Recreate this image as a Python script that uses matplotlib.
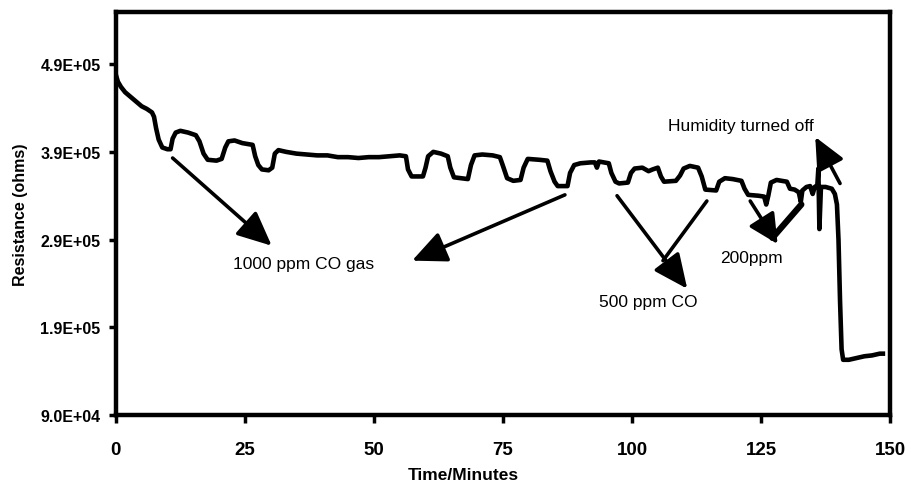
import matplotlib
matplotlib.use("Agg")
import matplotlib.pyplot as plt

plt.rcParams['font.family'] = ['Liberation Sans', 'DejaVu Sans']

# Time (minutes)
time_min = [0.0, 0.4, 1.0, 1.8, 3.0, 4.0, 5.0, 6.0, 7.0, 7.4, 7.8, 8.3, 9.0, 10.0, 10.6,
            11.0, 11.6, 12.5, 14.0, 15.5, 16.2, 17.0, 17.8, 19.5, 20.5, 21.2, 21.8, 23.0,
            24.5, 26.5, 27.0, 27.6, 28.3, 29.6, 30.3, 30.8, 31.5, 33.0, 35.0, 37.0, 39.0,
            41.0, 43.0, 45.0, 47.0, 49.0, 51.0, 53.0, 55.0, 56.2, 56.6, 57.3, 59.5, 60.0,
            60.5, 61.5, 63.0, 64.3, 64.8, 65.5, 68.2, 68.8, 69.5, 71.0, 73.0, 74.4, 75.0,
            75.8, 77.0, 78.4, 79.0, 79.8, 82.0, 83.6, 84.2, 85.0, 85.6, 87.5, 88.0, 88.8,
            90.0, 92.0, 92.8, 93.2, 93.6, 95.5, 96.0, 96.8, 97.5, 99.2, 99.8, 100.5, 102.0,
            103.2, 104.0, 105.0, 105.6, 106.2, 108.5, 109.3, 110.0, 111.2, 112.8, 113.5,
            114.2, 116.3, 116.9, 118.0, 119.5, 121.2, 121.8, 122.5, 124.5, 125.6, 126.0,
            126.4, 126.9, 128.0, 130.0, 130.6, 131.5, 132.3, 132.7, 133.0, 133.8, 134.5,
            135.0, 135.4, 135.9, 136.1, 136.3, 136.6, 137.5, 138.7, 139.3, 139.7, 140.0,
            140.3, 140.6, 140.9, 142.0, 143.5, 145.0, 146.5, 148.0, 148.6]

# Resistance (ohms)
resistance = [4.78e5, 4.70e5, 4.64e5, 4.58e5, 4.52e5, 4.47e5, 4.42e5, 4.39e5, 4.35e5, 4.30e5,
              4.17e5, 4.04e5, 3.95e5, 3.93e5, 3.93e5, 4.05e5, 4.12e5, 4.14e5, 4.12e5, 4.09e5,
              4.02e5, 3.88e5, 3.81e5, 3.80e5, 3.82e5, 3.95e5, 4.02e5, 4.03e5, 4.00e5, 3.98e5,
              3.85e5, 3.75e5, 3.70e5, 3.69e5, 3.72e5, 3.88e5, 3.92e5, 3.90e5, 3.88e5, 3.87e5,
              3.86e5, 3.86e5, 3.84e5, 3.84e5, 3.83e5, 3.84e5, 3.84e5, 3.85e5, 3.86e5, 3.85e5,
              3.70e5, 3.62e5, 3.62e5, 3.72e5, 3.85e5, 3.90e5, 3.88e5, 3.85e5, 3.72e5, 3.61e5,
              3.59e5, 3.75e5, 3.86e5, 3.87e5, 3.86e5, 3.84e5, 3.74e5, 3.60e5, 3.57e5, 3.58e5,
              3.72e5, 3.82e5, 3.81e5, 3.80e5, 3.68e5, 3.56e5, 3.51e5, 3.51e5, 3.66e5, 3.75e5,
              3.77e5, 3.78e5, 3.78e5, 3.72e5, 3.79e5, 3.77e5, 3.66e5, 3.56e5, 3.54e5, 3.55e5,
              3.66e5, 3.71e5, 3.72e5, 3.68e5, 3.70e5, 3.72e5, 3.62e5, 3.56e5, 3.57e5, 3.63e5,
              3.71e5, 3.74e5, 3.72e5, 3.62e5, 3.47e5, 3.46e5, 3.56e5, 3.60e5, 3.59e5, 3.57e5,
              3.48e5, 3.41e5, 3.40e5, 3.39e5, 3.30e5, 3.40e5, 3.55e5, 3.58e5, 3.56e5, 3.48e5,
              3.47e5, 3.44e5, 3.33e5, 3.46e5, 3.50e5, 3.51e5, 3.42e5, 3.50e5, 3.52e5, 3.71e5,
              3.02e5, 3.50e5, 3.50e5, 3.48e5, 3.42e5, 3.30e5, 2.90e5, 2.20e5, 1.65e5, 1.53e5,
              1.53e5, 1.55e5, 1.57e5, 1.58e5, 1.60e5, 1.60e5]

x_ticks = [0, 25, 50, 75, 100, 125, 150]
y_ticks = [9.0e4, 1.9e5, 2.9e5, 3.9e5, 4.9e5]
y_tick_labels = ['9.0E+04', '1.9E+05', '2.9E+05', '3.9E+05', '4.9E+05']

fig = plt.figure(figsize=(9.12, 4.81), dpi=100)
ax = fig.add_axes([0.127, 0.135, 0.849, 0.839])

ax.plot(time_min, resistance, color='black', lw=3.3, solid_joinstyle='round')

ax.set_xlim(0, 150)
ax.set_ylim(9.0e4, 5.5e5)
ax.set_xticks(x_ticks)
ax.set_xticklabels([str(v) for v in x_ticks], fontsize=13.5, fontweight='bold')
ax.set_yticks(y_ticks)
ax.set_yticklabels(y_tick_labels, fontsize=11.5, fontweight='bold')
ax.tick_params(axis='x', direction='out', length=6, width=2.5, pad=13)
ax.tick_params(axis='y', direction='out', length=5, width=2.5, pad=6)
for s in ax.spines.values():
    s.set_linewidth(3.2)

ax.set_xlabel('Time/Minutes', fontsize=12.5, fontweight='bold', labelpad=6, x=0.449)
ax.set_ylabel('Resistance (ohms)', fontsize=11.5, fontweight='bold', labelpad=9)

def arrow(xy_from, xy_to, lw=2.6, head=True, hl=0.7, hw=0.32):
    style = '-|>,head_length=%g,head_width=%g' % (hl, hw) if head else '-'
    ax.annotate('', xy=xy_to, xytext=xy_from,
                arrowprops=dict(arrowstyle=style, mutation_scale=30, lw=lw,
                                color='black', shrinkA=0, shrinkB=0))

arrow((11.0, 3.83e5), (30.2, 2.83e5))
arrow((87.0, 3.41e5), (57.4, 2.66e5))
arrow((97.1, 3.40e5), (110.7, 2.34e5))
arrow((114.5, 3.34e5), (106.0, 2.66e5), head=False)
arrow((122.9, 3.34e5), (128.2, 2.85e5), hl=0.6, hw=0.3)
arrow((132.8, 3.30e5), (127.2, 2.92e5), lw=4.5, head=False)
arrow((140.3, 3.54e5), (135.5, 4.07e5), hl=0.65, hw=0.3)

ax.text(22.7, 2.63e5, '1000 ppm CO gas', fontsize=12.5, va='center', ha='left')
ax.text(93.6, 2.20e5, '500 ppm CO', fontsize=12.5, va='center', ha='left')
ax.text(117.1, 2.70e5, '200ppm', fontsize=12.5, va='center', ha='left')
ax.text(107.0, 4.20e5, 'Humidity turned off', fontsize=12.5, va='center', ha='left')

fig.savefig('out.png', dpi=100)
